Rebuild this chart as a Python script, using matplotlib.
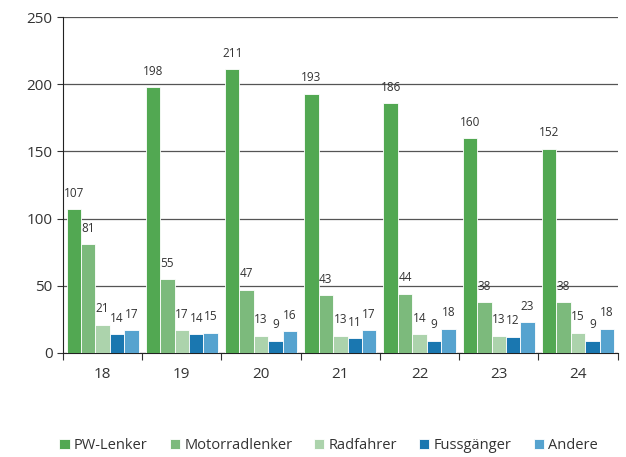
import numpy as np
import matplotlib.pyplot as plt

plt.rcParams['font.family'] = ['Open Sans', 'DejaVu Sans']

years = ['18', '19', '20', '21', '22', '23', '24']
series = ['PW-Lenker', 'Motorradlenker', 'Radfahrer', 'Fussgänger', 'Andere']
pw = [107, 198, 211, 193, 186, 160, 152]
motorrad = [81, 55, 47, 43, 44, 38, 38]
rad = [21, 17, 13, 13, 14, 13, 15]
fuss = [14, 14, 9, 11, 9, 12, 9]
andere = [17, 15, 16, 17, 18, 23, 18]
colors = ['#52a852', '#7cba7c', '#acd3ac', '#1a77b0', '#56a3cf']

data = [pw, motorrad, rad, fuss, andere]

fig = plt.figure(figsize=(6.26, 4.57), dpi=100)
ax = fig.add_axes([0.1006, 0.2276, 0.886, 0.735])

x = np.arange(len(years))
w = 0.182
for i, (vals, c, name) in enumerate(zip(data, colors, series)):
    pos = x + (i - 2) * w
    ax.bar(pos, vals, w, color=c, edgecolor='white', linewidth=0.6, label=name, zorder=3)
    for p, v in zip(pos, vals):
        ax.text(p, v + 7, str(v), ha='center', va='bottom', fontsize=8.5, color='#333333')

ax.set_xlim(-0.5, len(years) - 0.5)
ax.set_ylim(0, 250)
ax.set_yticks(np.arange(0, 251, 50))
ax.yaxis.grid(True, color='#555555', linewidth=0.9, zorder=0)
ax.set_xticks(np.arange(-0.5, len(years), 1))
ax.set_xticklabels([])
ax.set_xticks(x, minor=True)
ax.set_xticklabels(years, minor=True)
ax.tick_params(axis='x', which='minor', length=0, pad=10, labelsize=11, colors='#333333')
ax.tick_params(axis='x', which='major', length=5, color='#333333')
ax.tick_params(axis='y', length=4, labelsize=11, colors='#333333')
for s in ['top', 'right']:
    ax.spines[s].set_visible(False)
ax.spines['left'].set_color('#222222')
ax.spines['bottom'].set_color('#222222')

fig.legend(loc='lower center', bbox_to_anchor=(0.525, -0.02), ncol=5, frameon=False,
           fontsize=10.5, handlelength=0.7, handleheight=0.7, handletextpad=0.3,
           columnspacing=1.5, labelcolor='#333333')

plt.savefig('out.png', dpi=100)
